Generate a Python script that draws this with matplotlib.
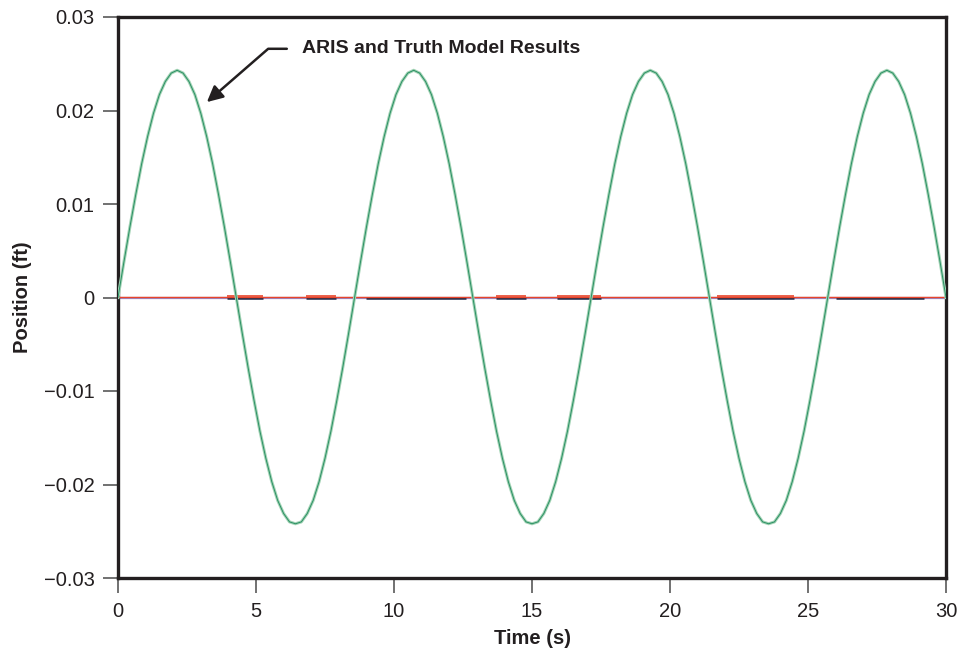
import matplotlib
matplotlib.use("Agg")
import matplotlib.pyplot as plt
from matplotlib.ticker import FixedLocator, FuncFormatter
import numpy as np

timeStep = 30.0 / 140
positionARIS = [
    0.0, 0.0038, 0.0075, 0.0110, 0.0143, 0.0172, 0.0197, 0.0217, 0.0231, 0.0240,
    0.0243, 0.0240, 0.0231, 0.0217, 0.0197, 0.0172, 0.0143, 0.0110, 0.0075, 0.0038,
    0.0, -0.0038, -0.0075, -0.0110, -0.0143, -0.0172, -0.0197, -0.0217, -0.0231, -0.0240,
    -0.0242, -0.0240, -0.0231, -0.0217, -0.0197, -0.0172, -0.0143, -0.0110, -0.0075, -0.0038,
    0.0, 0.0038, 0.0075, 0.0110, 0.0143, 0.0172, 0.0197, 0.0217, 0.0231, 0.0240,
    0.0243, 0.0240, 0.0231, 0.0217, 0.0197, 0.0172, 0.0143, 0.0110, 0.0075, 0.0038,
    0.0, -0.0038, -0.0075, -0.0110, -0.0143, -0.0172, -0.0197, -0.0217, -0.0231, -0.0240,
    -0.0242, -0.0240, -0.0231, -0.0217, -0.0197, -0.0172, -0.0143, -0.0110, -0.0075, -0.0038,
    0.0, 0.0038, 0.0075, 0.0110, 0.0143, 0.0172, 0.0197, 0.0217, 0.0231, 0.0240,
    0.0243, 0.0240, 0.0231, 0.0217, 0.0197, 0.0172, 0.0143, 0.0110, 0.0075, 0.0038,
    0.0, -0.0038, -0.0075, -0.0110, -0.0143, -0.0172, -0.0197, -0.0217, -0.0231, -0.0240,
    -0.0242, -0.0240, -0.0231, -0.0217, -0.0197, -0.0172, -0.0143, -0.0110, -0.0075, -0.0038,
    0.0, 0.0038, 0.0075, 0.0110, 0.0143, 0.0172, 0.0197, 0.0217, 0.0231, 0.0240,
    0.0243, 0.0240, 0.0231, 0.0217, 0.0197, 0.0172, 0.0143, 0.0110, 0.0075, 0.0038,
    0.0,
]
positionTruth = list(positionARIS)
time = np.arange(len(positionARIS)) * timeStep

# small residual series hugging zero
redBaseline = 0.00007
redRaisedStart = [3.95, 6.8, 13.7, 15.9, 21.7]
redRaisedEnd = [5.25, 7.9, 14.8, 17.5, 24.5]
redRaised = 0.00017
navyStart = [3.95, 6.8, 9.0, 13.7, 15.9, 21.7, 26.0]
navyEnd = [5.25, 7.9, 12.6, 14.8, 17.5, 24.5, 29.2]
navyLevel = -0.00004
purpleLevel = 0.0

xTicks = [0, 5, 10, 15, 20, 25, 30]
yTicks = [-0.03, -0.02, -0.01, 0, 0.01, 0.02, 0.03]

ink = '#231f20'
plt.rcParams['font.family'] = ['Liberation Sans Narrow', 'Liberation Sans', 'DejaVu Sans']

fig = plt.figure(figsize=(9.63, 6.59), dpi=100)
ax = fig.add_axes([118 / 963, 1 - 578 / 659, 828 / 963, 561 / 659])

ax.plot([0, 30], [purpleLevel, purpleLevel], color='#948bd0', lw=1.6, zorder=2)
ax.hlines([navyLevel] * len(navyStart), navyStart, navyEnd, color='#1c2a4a', lw=1.8, zorder=3)
ax.plot([0, 30], [redBaseline, redBaseline], color='#e8452b', lw=1.0, zorder=4)
ax.hlines([redRaised] * len(redRaisedStart), redRaisedStart, redRaisedEnd,
          color='#e8452b', lw=1.2, zorder=4)

ax.plot(time, positionTruth, color='#a3d3b5', lw=2.2, zorder=5)
ax.plot(time, positionARIS, color='#2a9064', lw=0.7, zorder=6)

ax.annotate('ARIS and Truth Model Results', xy=(3.22, 0.0209), xytext=(6.67, 0.0266),
            ha='left', va='center', fontsize=14, fontweight='bold', color=ink,
            arrowprops=dict(arrowstyle='-|>', connectionstyle='angle,angleA=180,angleB=41,rad=0',
                            color=ink, lw=1.8, shrinkA=9, shrinkB=0, mutation_scale=24))

ax.set_xlim(0, 30)
ax.set_ylim(-0.03, 0.03)
ax.xaxis.set_major_locator(FixedLocator(xTicks))
ax.yaxis.set_major_locator(FixedLocator(yTicks))

def yFormat(v, pos):
    if abs(v) < 1e-12:
        return '0'
    return ('%.2f' % v).replace('-', '\u2212')

ax.yaxis.set_major_formatter(FuncFormatter(yFormat))
ax.tick_params(axis='both', direction='out', length=11, width=1.3, color='#666666',
               labelsize=14.5, labelcolor=ink, pad=6)

for spine in ax.spines.values():
    spine.set_linewidth(2.4)
    spine.set_color(ink)

ax.set_xlabel('Time (s)', fontsize=14.5, fontweight='bold', color=ink, labelpad=6)
ax.set_ylabel('Position (ft)', fontsize=14.5, fontweight='bold', color=ink, labelpad=8)

fig.savefig('out.png', dpi=100)
